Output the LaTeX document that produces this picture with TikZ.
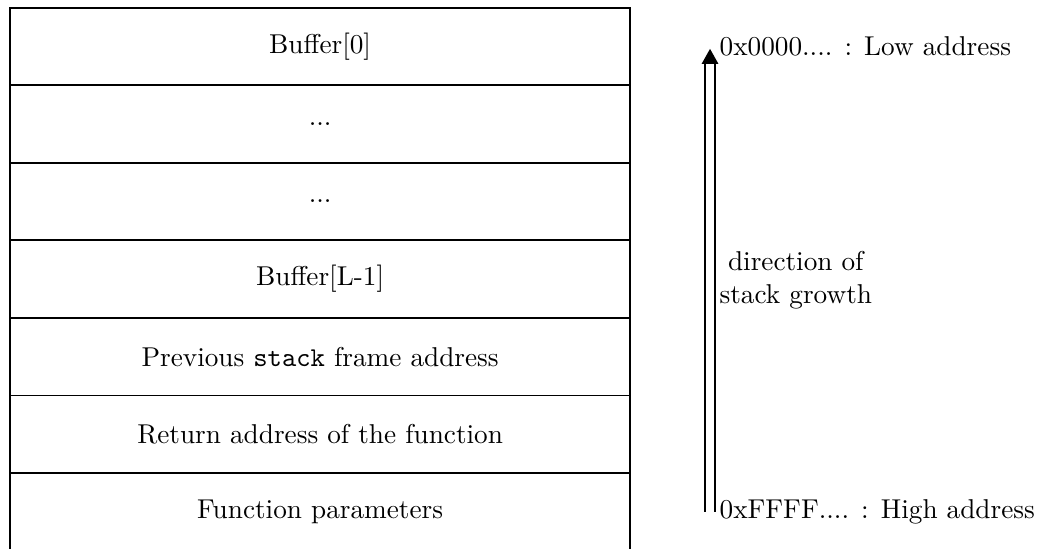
\documentclass[tikz,border=0pt]{standalone}
\usepackage{tikz}
\usetikzlibrary{positioning,arrows.meta,calc}

\begin{document}
\begin{tikzpicture}[
    >=Latex,
    node distance=0pt,
    cell/.style={draw=black, semithick, rectangle, minimum width=8cm, minimum height=1cm,
      inner sep=0pt, outer sep=0pt, anchor=north west},
    lbl/.style={right, align=center},
  ]
    \useasboundingbox (-0.13,0.1) rectangle (13.3,-6.97);

    % stack frame, top = low addresses
    \node[cell] (buf0) at (0,0) {Buffer[0]};
    \node[cell, below=of buf0]   (dotsA)  {...};
    \node[cell, below=of dotsA]  (dotsB)  {...};
    \node[cell, below=of dotsB]  (bufL)   {Buffer[L-1]};
    \node[cell, below=of bufL]   (prev)   {Previous \texttt{stack} frame address};
    \node[cell, below=of prev]   (ret)    {Return address of the function};
    \node[cell, below=of ret]    (params) {Function parameters};

    % growth arrow
    \coordinate (high) at (9.03,-6.5);
    \coordinate (low)  at (9.03,-0.53);
    \draw[semithick, double, double distance=3.1pt, -{Triangle[length=5.5pt,width=6pt]}] (high) -- (low);

    \node[lbl] (lowlbl)  at ($(low)+(0,0.03)$)  {0x0000.... : Low address};
    \node[lbl] (highlbl) at (high) {0xFFFF.... : High address};
    \node[lbl] (grow) at ($(high)!0.5!(low)$) {direction of\\stack growth};
  \end{tikzpicture}
\end{document}
